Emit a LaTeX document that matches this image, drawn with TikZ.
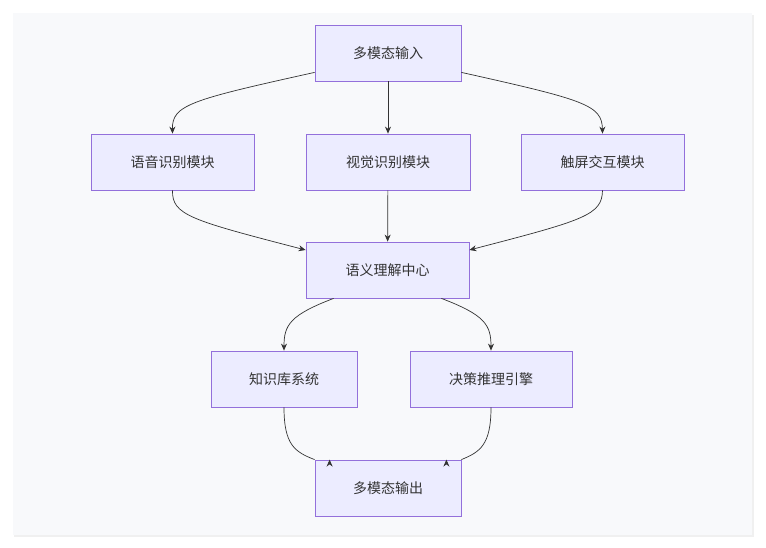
\documentclass[tikz,border=0pt]{standalone}
\usepackage{fontspec}
\setmainfont{Noto Sans CJK SC}
\usetikzlibrary{arrows.meta}
\definecolor{boxfill}{HTML}{ECECFF}
\definecolor{boxline}{HTML}{9370DB}
\definecolor{panel}{HTML}{F8F9FB}
\definecolor{edge}{HTML}{333333}
\tikzset{
  box/.style={draw=boxline, fill=boxfill, line width=0.8pt, minimum height=56pt,
    inner sep=0pt, font=\fontsize{14}{16}\selectfont, text=edge},
  link/.style={draw=edge, line width=0.7pt, -{Stealth[length=7pt,width=6pt]}}
}
\begin{document}
\begin{tikzpicture}[x=1pt,y=-1pt]
    \useasboundingbox (0,0) rectangle (766,548);
    \fill [black!6] (14,15) rectangle (754,537);
    \fill [panel] (13,13) rectangle (752,535);
    % nodes
    \node [box, minimum width=146pt] (input) at (388,53) {多模态输入};
    \node [box, minimum width=163pt] (speech) at (172.5,162) {语音识别模块};
    \node [box, minimum width=164pt] (vision) at (388,162) {视觉识别模块};
    \node [box, minimum width=163pt] (touch) at (602.5,162) {触屏交互模块};
    \node [box, minimum width=163pt] (semantic) at (387.5,270) {语义理解中心};
    \node [box, minimum width=146pt] (knowledge) at (284,379) {知识库系统};
    \node [box, minimum width=162pt] (decision) at (491,379) {决策推理引擎};
    \node [box, minimum width=146pt] (output) at (388,488) {多模态输出};
    % connectors
    \draw [link] (input.south west) ++(0,-9) .. controls (190,100) and (172,105) .. (speech.north);
    \draw [link] (input) -- (vision);
    \draw [link] (input.south east) ++(0,-9) .. controls (585,100) and (602,105) .. (touch.north);
    \draw [link] (speech.south) .. controls (172,215) and (190,220) .. (semantic.west |- 0,250);
    \draw [link] (vision) -- (semantic);
    \draw [link] (touch.south) .. controls (602,215) and (585,220) .. (semantic.east |- 0,250);
    \draw [link] (semantic.south west) ++(28,0) .. controls (290,315) and (284,325) .. (knowledge.north);
    \draw [link] (semantic.south east) ++(-28,0) .. controls (485,315) and (491,325) .. (decision.north);
    \draw [link] (knowledge.south) .. controls (284,445) and (295,452) .. (output.north west) ++(15,0);
    \draw [link] (decision.south) .. controls (491,445) and (480,452) .. (output.north east) ++(-15,0);
\end{tikzpicture}
\end{document}
